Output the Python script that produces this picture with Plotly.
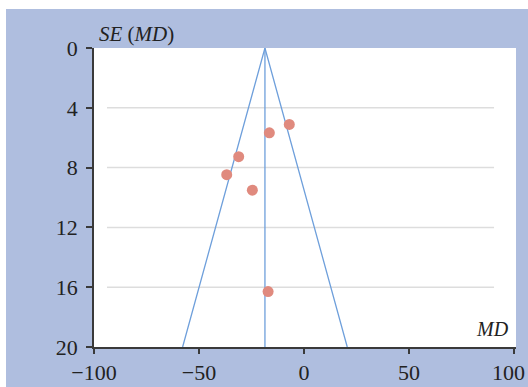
import plotly.graph_objects as go

# Study data: mean difference (MD) and its standard error
md = [-7.0, -16.5, -31.1, -36.8, -24.6, -17.1]
se = [5.11, 5.67, 7.27, 8.47, 9.51, 16.29]
pooled_md = -18.6
se_max = 20
z = 1.96

x_ticks = [-100, -50, 0, 50, 100]
x_ticktext = ["\u2212100", "\u221250", "0", "50", ""]   # last label drawn as annotation (edge)
last_x_label = "100"
y_ticks = [0, 4, 8, 12, 16, 20]
grid_y = [4, 8, 12, 16]

BLUE = "#AFBEDF"
LINE = "#6E9FDB"
DOT = "#E08A7E"
AX = "#3A3A3A"
FONT = "Liberation Serif"

fig = go.Figure()

# funnel (pseudo 95% CI limits)
fig.add_trace(go.Scatter(
    x=[pooled_md - z * se_max, pooled_md, pooled_md + z * se_max],
    y=[se_max, 0, se_max],
    mode="lines", line=dict(color=LINE, width=1.3), hoverinfo="skip", showlegend=False))
fig.add_trace(go.Scatter(
    x=[pooled_md, pooled_md], y=[0, se_max],
    mode="lines", line=dict(color=LINE, width=1.3), hoverinfo="skip", showlegend=False))

fig.add_trace(go.Scatter(
    x=md, y=se, mode="markers",
    marker=dict(color=DOT, size=11, line=dict(width=0)), showlegend=False))

shapes = []
for gy in grid_y:
    shapes.append(dict(type="line", xref="x", yref="y", x0=-93.8, x1=90.5, y0=gy, y1=gy,
                       line=dict(color="#DDDDDD", width=1.5), layer="below"))
# white strips at the top and left edge of the figure
shapes.append(dict(type="rect", xref="paper", yref="paper",
                   x0=-0.25, x1=1.1, y0=(347 - 9) / 299, y1=1.3,
                   fillcolor="white", line=dict(width=0), layer="below"))
shapes.append(dict(type="rect", xref="paper", yref="paper",
                   x0=-0.25, x1=(6 - 94) / 422, y0=-0.3, y1=1.3,
                   fillcolor="white", line=dict(width=0), layer="below"))

fig.update_layout(
    width=528, height=387,
    margin=dict(l=94, r=12, t=48, b=40),
    paper_bgcolor=BLUE, plot_bgcolor="white",
    font=dict(family=FONT, size=22, color="#222222"),
    shapes=shapes,
    annotations=[
        dict(text="<i>SE</i> (<i>MD</i>)", xref="paper", yref="paper",
             x=(97 - 94) / 422, y=(347 - 34.5) / 299, xanchor="left", yanchor="middle",
             showarrow=False, font=dict(family=FONT, size=21, color="#222222")),
        dict(text="<i>MD</i>", xref="paper", yref="paper",
             x=(511 - 94) / 422, y=(347 - 329) / 299, xanchor="right", yanchor="middle",
             showarrow=False, font=dict(family=FONT, size=20, color="#222222")),
        dict(text=last_x_label, xref="paper", yref="paper",
             x=(527 - 94) / 422, y=(347 - 372) / 299, xanchor="right", yanchor="middle",
             showarrow=False, font=dict(family=FONT, size=22, color="#222222")),
    ],
)

fig.update_xaxes(range=[-100, 100.95], tickvals=x_ticks, ticktext=x_ticktext,
                 showgrid=False, zeroline=False,
                 automargin=False, ticklabeloverflow="allow",
                 showline=True, linecolor=AX, linewidth=1.5,
                 ticks="outside", ticklen=5, tickwidth=1.5, tickcolor=AX,
                 ticklabelstandoff=0,
                 tickfont=dict(family=FONT, size=22, color="#222222"))
fig.update_yaxes(range=[se_max, 0], tickvals=y_ticks, showgrid=False, zeroline=False,
                 automargin=False,
                 showline=True, linecolor=AX, linewidth=1.5,
                 ticks="outside", ticklen=6, tickwidth=1.5, tickcolor=AX,
                 ticklabelstandoff=4,
                 tickfont=dict(family=FONT, size=22, color="#222222"))

fig.write_html("out.html", config={"displayModeBar": False},
               post_script="document.body.style.margin='0';")
